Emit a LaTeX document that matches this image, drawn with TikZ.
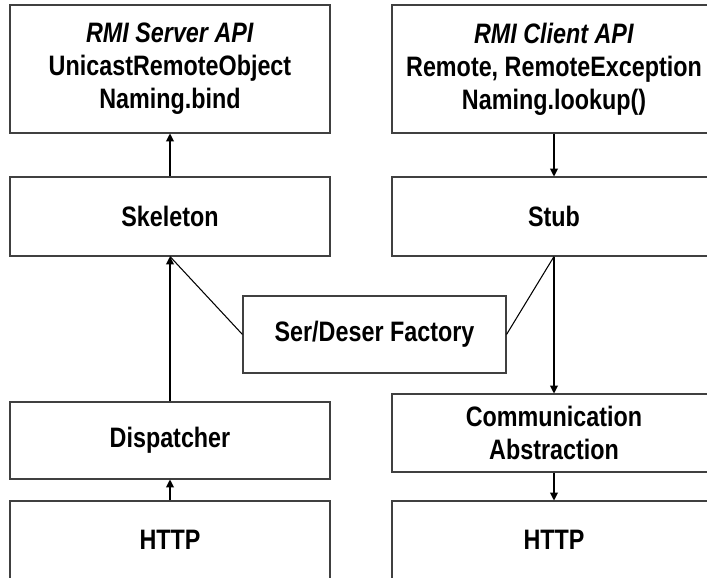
\documentclass[tikz,border=0pt]{standalone}
\usepackage{fontspec}
\setmainfont{Liberation Sans}[FakeStretch=0.83]
\usetikzlibrary{arrows.meta, positioning}

\tikzset{
  layer/.style={draw=black!75, line width=0.6pt, minimum width=6.4cm, align=center,
    inner sep=0pt, font=\bfseries\fontsize{16}{18.8}\selectfont},
  flow/.style={-{Triangle[length=4.5pt,width=4.5pt]}, line width=0.6pt},
  link/.style={line width=0.6pt}
}

\begin{document}
\begin{tikzpicture}
\useasboundingbox (0,0) rectangle (14.14,11.54);
% server side
\node[layer,minimum height=2.56cm] (srvapi) at (3.4,10.16) {\textit{RMI Server API}\\UnicastRemoteObject\\Naming.bind};
\node[layer,minimum height=1.58cm] (skel) at (3.4,7.21) {Skeleton};
\node[layer,minimum height=1.54cm] (disp) at (3.4,2.73) {Dispatcher};
\node[layer,minimum height=1.56cm] (httpl) at (3.4,0.74) {HTTP};
% client side
\node[layer,minimum width=6.48cm,minimum height=2.56cm] (cliapi) at (11.08,10.16) {\textit{RMI Client API}\\Remote, RemoteException\\Naming.lookup()};
\node[layer,minimum width=6.48cm,minimum height=1.58cm] (stub) at (11.08,7.21) {Stub};
\node[layer,minimum width=6.48cm,minimum height=1.56cm] (comm) at (11.08,2.88) {Communication\\Abstraction};
\node[layer,minimum width=6.48cm,minimum height=1.56cm] (httpr) at (11.08,0.74) {HTTP};
% shared factory
\node[layer,minimum width=5.26cm,minimum height=1.54cm,fill=white] (factory) at (7.49,4.85) {Ser/Deser Factory};

\draw[flow] (skel) -- (srvapi);
\draw[flow] (disp) -- (skel);
\draw[flow] (httpl) -- (disp);
\draw[flow] (cliapi) -- (stub);
\draw[flow] (stub) -- (comm);
\draw[flow] (comm) -- (httpr);
\draw[link] (skel.south) -- (factory.west);
\draw[link] (stub.south) -- (factory.east);
\end{tikzpicture}
\end{document}
